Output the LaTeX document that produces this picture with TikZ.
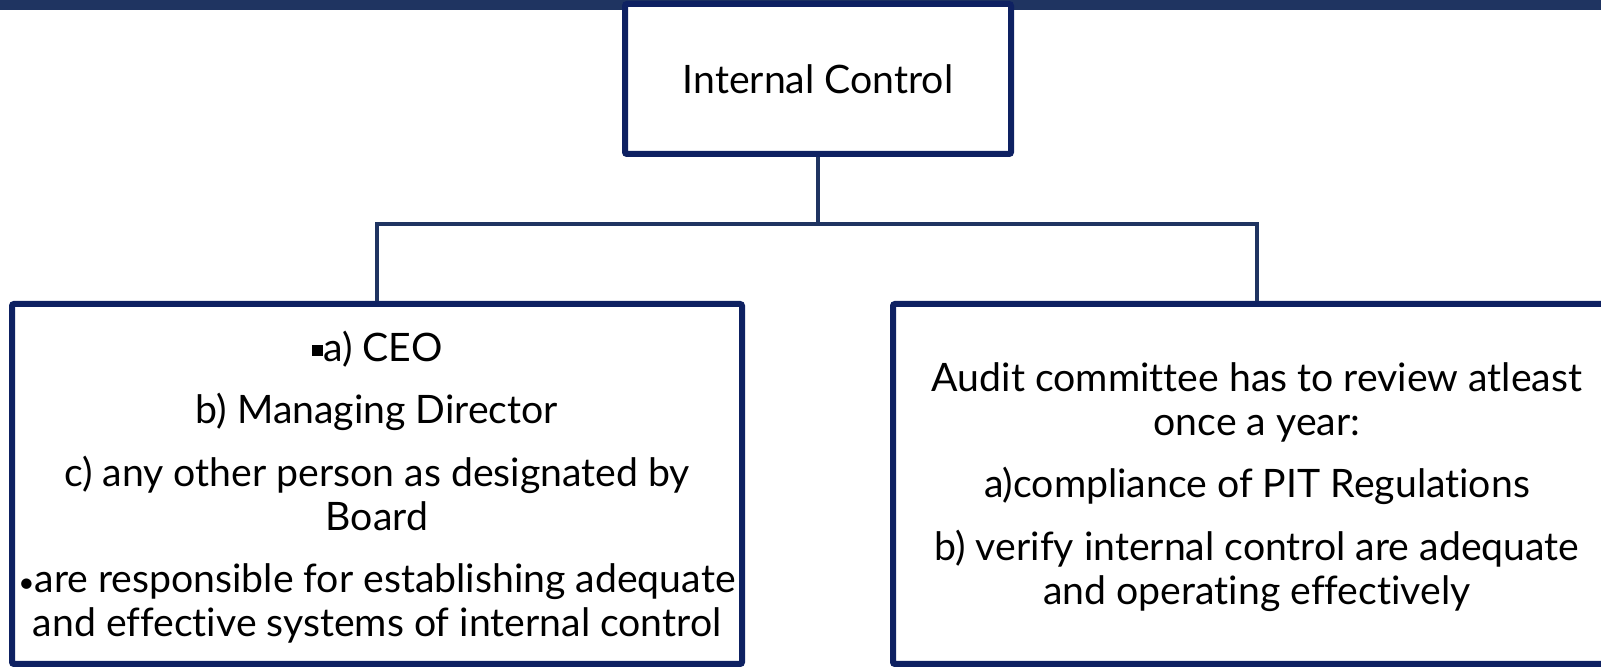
\documentclass[tikz,border=0pt]{standalone}
\usepackage{fontspec}
\setmainfont[Ligatures=NoCommon]{Lato}
\definecolor{band}{HTML}{1F3461}
\definecolor{navy}{HTML}{0E2162}
\definecolor{link}{HTML}{1F3461}
\begin{document}
\begin{tikzpicture}[x=0.5pt,y=-0.5pt,
  box/.style={draw=navy,line width=3pt,rounded corners=1pt,fill=white,
    align=center,inner sep=0pt,font=\fontsize{19.6}{21.8}\selectfont},
  textblock/.style={align=center,inner sep=0pt,font=\fontsize{19.6}{21.8}\selectfont},
  link/.style={draw=link,line width=1.8pt}]
\useasboundingbox (0,0) rectangle (1601,667);
\clip (0,0) rectangle (1601,667);
% header band
\fill[band] (0,0) rectangle (1601,10);
% top box
\node[box,minimum width=386*0.5pt,minimum height=150*0.5pt] (top) at (818,79) {Internal Control};
% lower boxes
\node[box,minimum width=730*0.5pt,minimum height=360*0.5pt] (left) at (377,484) {};
\node[box,minimum width=728*0.5pt,minimum height=360*0.5pt] (right) at (1257,484) {};
% box contents
\node[textblock] (lefttext) at (377,487)
  {\raisebox{0.25ex}{\rule{0.3em}{0.3em}}a) CEO\\[9.5pt]
   b) Managing Director\\[9.5pt]
   c) any other person as designated by\\
   Board\\[9.5pt]
   {\fontsize{14}{14}\selectfont •}are responsible for establishing adequate\\
   and effective systems of internal control};
\node[textblock] (righttext) at (1257,487)
  {Audit committee has to review atleast\\
   once a year:\\[9.5pt]
   a)compliance of PIT Regulations\\[9.5pt]
   b) verify internal control are adequate\\
   and operating effectively};
% connectors
\coordinate (mid) at (818,224);
\draw[link] (top.south) -- (mid);
\draw[link] (left.north) |- (mid) -| (right.north);
\end{tikzpicture}
\end{document}
